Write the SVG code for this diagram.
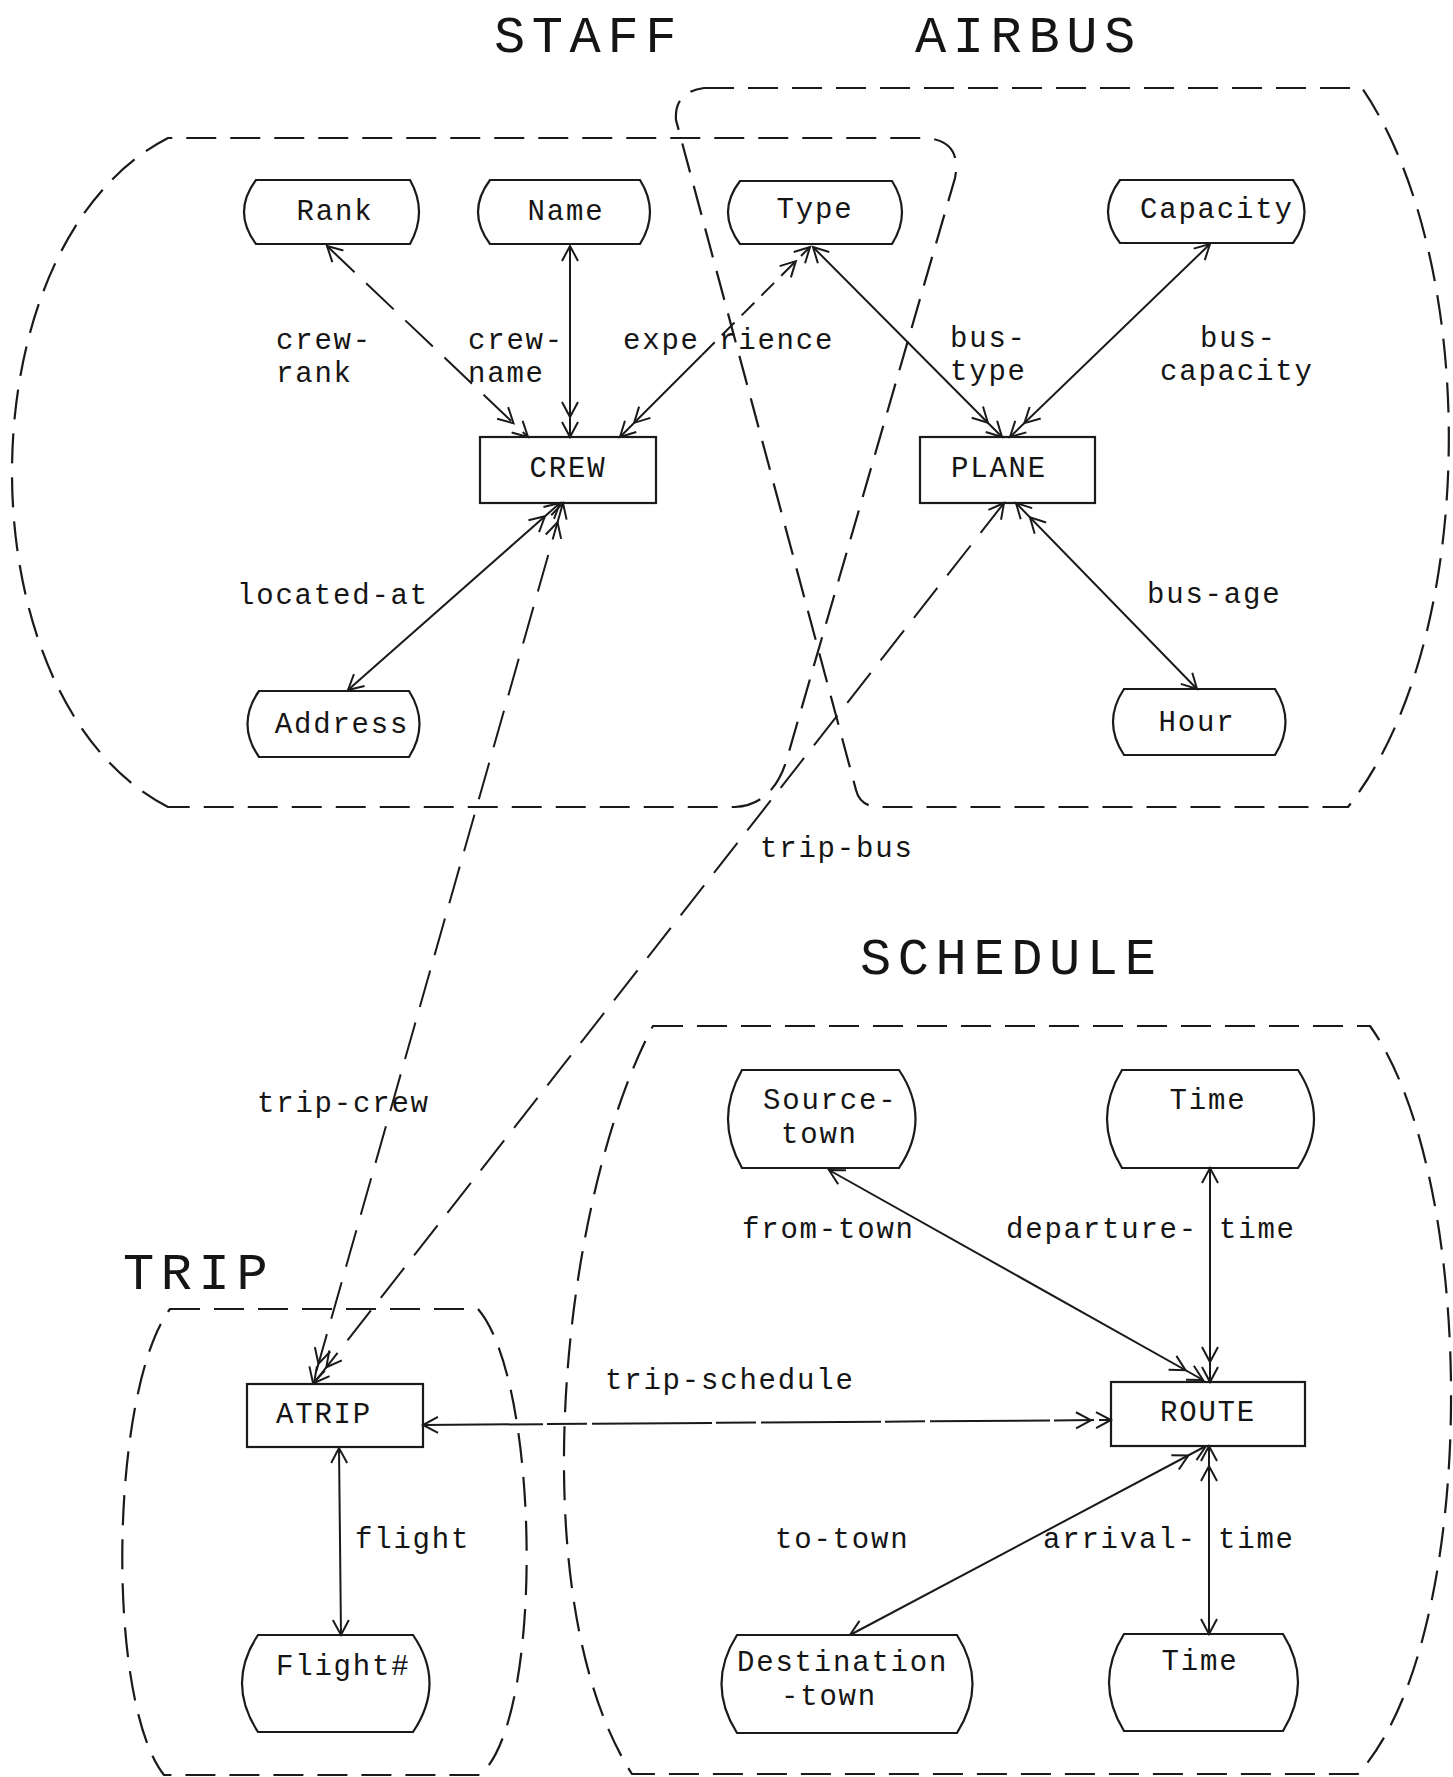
<svg xmlns="http://www.w3.org/2000/svg" width="1453" height="1777" viewBox="0 0 1453 1777">
<style>
  .bg { fill: #ffffff; }
  .title { font-family: "Liberation Mono", "DejaVu Sans Mono", monospace; font-size: 52px; letter-spacing: 6.6px; fill: #151515; }
  .lbl { font-family: "Liberation Mono", "DejaVu Sans Mono", monospace; font-size: 29px; letter-spacing: 1.8px; fill: #151515; }
  .mid { text-anchor: middle; }
  .grp { fill: none; stroke: #1a1a1a; stroke-width: 2.2; stroke-dasharray: 30 14; }
  .node { fill: none; stroke: #1a1a1a; stroke-width: 2.2; }
  .edge { fill: none; stroke: #1a1a1a; stroke-width: 2; }
  .dash { stroke-dasharray: 38 16; }
  .dash2 { stroke-dasharray: 18 10; }
  .dashlong { stroke-dasharray: 120 4 40 5; }
  .mk { fill: none; stroke: #1a1a1a; stroke-width: 2; }
</style>
<defs>
  <marker id="one" markerUnits="userSpaceOnUse" markerWidth="40" markerHeight="40" refX="0" refY="0" viewBox="-20 -20 40 40" orient="auto-start-reverse" overflow="visible">
    <path class="mk" d="M -15 -8 L 0 0 L -15 8"/>
  </marker>
  <marker id="two" markerUnits="userSpaceOnUse" markerWidth="60" markerHeight="40" refX="0" refY="0" viewBox="-40 -20 60 40" orient="auto-start-reverse" overflow="visible">
    <path class="mk" d="M -15 -8 L 0 0 L -15 8 M -35 -8 L -20 0 L -35 8"/>
  </marker>
</defs>
<rect class="bg" x="0" y="0" width="1453" height="1777"/>

<g id="titles">
  <text class="title" x="494" y="52">STAFF</text>
  <text class="title" x="915" y="52">AIRBUS</text>
  <text class="title" x="860" y="974">SCHEDULE</text>
  <text class="title" x="123" y="1289">TRIP</text>
</g>

<g id="groups">
  <path id="staff-boundary" class="grp" d="M 168 807 C -40 700 -40 245 168 138 L 925 138 Q 962 140 955 178 L 786 762 Q 772 805 735 807 Z"/>
  <path id="airbus-boundary" class="grp" d="M 704 88 L 1362 88 C 1480 260 1480 640 1348 807 L 878 807 Q 860 806 856 790 L 676 120 Q 674 92 704 88 Z"/>
  <path id="schedule-boundary" class="grp" d="M 653 1026 L 1370 1026 C 1480 1180 1480 1640 1358 1774 L 632 1774 C 520 1600 560 1200 653 1026 Z"/>
  <path id="trip-boundary" class="grp" d="M 170 1309 L 478 1309 C 540 1380 545 1720 480 1775 L 164 1775 C 105 1700 110 1390 170 1309 Z"/>
</g>

<g id="connectors">
  <path id="crew-rank" class="edge dash" d="M 327 246 L 528 437" marker-start="url(#one)" marker-end="url(#two)"/>
  <path id="crew-name" class="edge" d="M 570 246 L 570 437" marker-start="url(#one)" marker-end="url(#two)"/>
  <path id="experience-a" class="edge" d="M 620 437 L 702 355" marker-start="url(#two)"/>
  <path id="experience-b" class="edge dash2" d="M 702 355 L 810 247" marker-end="url(#two)"/>
  <path id="bus-type" class="edge" d="M 813 247 L 1002 437" marker-start="url(#one)" marker-end="url(#two)"/>
  <path id="bus-capacity" class="edge" d="M 1210 244 L 1010 437" marker-start="url(#one)" marker-end="url(#two)"/>
  <path id="located-at" class="edge" d="M 560 503 L 348 690" marker-start="url(#two)" marker-end="url(#one)"/>
  <path id="bus-age" class="edge" d="M 1016 503 L 1197 689" marker-start="url(#two)" marker-end="url(#one)"/>
  <path id="trip-crew" class="edge dash" d="M 563 503 L 313 1383" marker-start="url(#two)" marker-end="url(#two)"/>
  <path id="trip-bus" class="edge dash" d="M 1004 503 L 314 1383" marker-start="url(#one)" marker-end="url(#two)"/>
  <path id="trip-schedule" class="edge dashlong" d="M 423 1425 L 1111 1420" marker-start="url(#one)" marker-end="url(#two)"/>
  <path id="from-town" class="edge" d="M 829 1170 L 1203 1380" marker-start="url(#one)" marker-end="url(#two)"/>
  <path id="departure-time" class="edge" d="M 1210 1168 L 1210 1382" marker-start="url(#one)" marker-end="url(#two)"/>
  <path id="to-town" class="edge" d="M 1206 1446 L 850 1635" marker-start="url(#two)" marker-end="url(#one)"/>
  <path id="arrival-time" class="edge" d="M 1209 1446 L 1209 1634" marker-start="url(#two)" marker-end="url(#one)"/>
  <path id="flight" class="edge" d="M 339 1448 L 341 1635" marker-start="url(#one)" marker-end="url(#one)"/>
</g>

<g id="edge-labels">
  <text class="lbl" x="276" y="349">crew-</text>
  <text class="lbl" x="276" y="382">rank</text>
  <text class="lbl" x="468" y="349">crew-</text>
  <text class="lbl" x="468" y="382">name</text>
  <text class="lbl" x="623" y="349">expe rience</text>
  <text class="lbl" x="950" y="347">bus-</text>
  <text class="lbl" x="950" y="380">type</text>
  <text class="lbl" x="1200" y="347">bus-</text>
  <text class="lbl" x="1160" y="380">capacity</text>
  <text class="lbl" x="237" y="604">located-at</text>
  <text class="lbl" x="1147" y="603">bus-age</text>
  <text class="lbl" x="760" y="857">trip-bus</text>
  <text class="lbl" x="257" y="1112">trip-crew</text>
  <text class="lbl" x="742" y="1238">from-town</text>
  <text class="lbl" x="1006" y="1238">departure-</text>
  <text class="lbl" x="1219" y="1238">time</text>
  <text class="lbl" x="605" y="1389">trip-schedule</text>
  <text class="lbl" x="355" y="1548">flight</text>
  <text class="lbl" x="775" y="1548">to-town</text>
  <text class="lbl" x="1043" y="1548">arrival-</text>
  <text class="lbl" x="1218" y="1548">time</text>
</g>

<g id="node-rank">
  <path class="node" d="M 256 180 L 410 180 Q 428 212 410 244 L 256 244 Q 232 212 256 180 Z"/>
  <text class="lbl mid" x="335" y="220">Rank</text>
</g>
<g id="node-name">
  <path class="node" d="M 490 180 L 640 180 Q 660 212 640 244 L 490 244 Q 466 212 490 180 Z"/>
  <text class="lbl mid" x="566" y="220">Name</text>
</g>
<g id="node-type">
  <path class="node" d="M 740 181 L 892 181 Q 912 212 892 244 L 740 244 Q 716 212 740 181 Z"/>
  <text class="lbl mid" x="815" y="218">Type</text>
</g>
<g id="node-capacity">
  <path class="node" d="M 1120 180 L 1293 180 Q 1316 212 1293 243 L 1120 243 Q 1096 212 1120 180 Z"/>
  <text class="lbl" x="1140" y="218">Capacity</text>
</g>
<g id="node-crew">
  <rect class="node" x="480" y="437" width="176" height="66"/>
  <text class="lbl mid" x="568" y="477">CREW</text>
</g>
<g id="node-plane">
  <rect class="node" x="920" y="437" width="175" height="66"/>
  <text class="lbl mid" x="999" y="477">PLANE</text>
</g>
<g id="node-address">
  <path class="node" d="M 259 691 L 409 691 Q 430 724 409 757 L 259 757 Q 236 724 259 691 Z"/>
  <text class="lbl mid" x="342" y="733">Address</text>
</g>
<g id="node-hour">
  <path class="node" d="M 1124 689 L 1275 689 Q 1296 722 1275 755 L 1124 755 Q 1102 722 1124 689 Z"/>
  <text class="lbl mid" x="1197" y="731">Hour</text>
</g>
<g id="node-source-town">
  <path class="node" d="M 742 1070 L 899 1070 Q 932 1119 899 1168 L 742 1168 Q 714 1119 742 1070 Z"/>
  <text class="lbl" x="763" y="1109">Source-</text>
  <text class="lbl" x="781" y="1143">town</text>
</g>
<g id="node-time-departure">
  <path class="node" d="M 1122 1070 L 1298 1070 Q 1330 1119 1298 1168 L 1122 1168 Q 1092 1119 1122 1070 Z"/>
  <text class="lbl mid" x="1208" y="1109">Time</text>
</g>
<g id="node-atrip">
  <rect class="node" x="247" y="1384" width="176" height="63"/>
  <text class="lbl mid" x="324" y="1423">ATRIP</text>
</g>
<g id="node-route">
  <rect class="node" x="1111" y="1382" width="194" height="64"/>
  <text class="lbl mid" x="1208" y="1421">ROUTE</text>
</g>
<g id="node-flight-no">
  <path class="node" d="M 258 1635 L 413 1635 Q 446 1683 413 1732 L 258 1732 Q 226 1683 258 1635 Z"/>
  <text class="lbl" x="276" y="1675">Flight#</text>
</g>
<g id="node-destination-town">
  <path class="node" d="M 737 1635 L 957 1635 Q 988 1684 957 1733 L 737 1733 Q 706 1684 737 1635 Z"/>
  <text class="lbl" x="737" y="1671">Destination</text>
  <text class="lbl" x="781" y="1705">-town</text>
</g>
<g id="node-time-arrival">
  <path class="node" d="M 1124 1634 L 1283 1634 Q 1313 1682 1283 1731 L 1124 1731 Q 1094 1682 1124 1634 Z"/>
  <text class="lbl mid" x="1200" y="1670">Time</text>
</g>
</svg>
